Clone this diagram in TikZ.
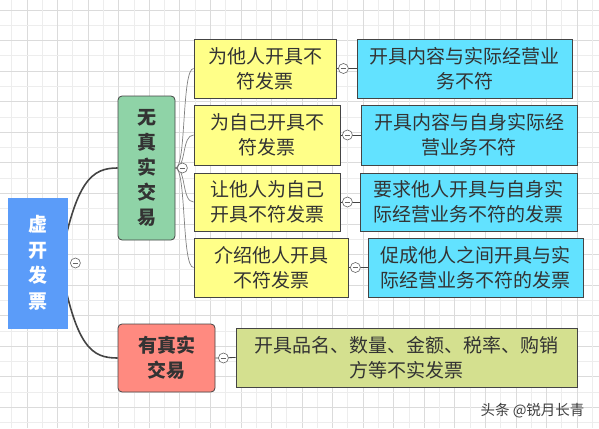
\documentclass[tikz,border=0pt]{standalone}
\usepackage{fontspec}
\setmainfont{Noto Sans CJK SC}
\usetikzlibrary{backgrounds}
\definecolor{rootblue}{HTML}{5B9CF9}
\definecolor{fakegreen}{HTML}{8FD3A7}
\definecolor{realred}{HTML}{FF8A80}
\definecolor{caseyellow}{HTML}{FFFF88}
\definecolor{notecyan}{HTML}{62E2FF}
\definecolor{noteolive}{HTML}{D4E08F}
\definecolor{edgegray}{HTML}{444444}

\begin{document}
\begin{tikzpicture}[x=1pt,y=-1pt,
  box/.style={draw=edgegray,line width=.8pt,fill=#1,inner sep=0pt,align=center,
    font=\fontsize{19}{25}\selectfont,text=black!80},
  topic/.style={box=#1,rounded corners=4pt,font=\fontsize{19}{25}\selectfont\bfseries},
  knob/.style={circle,draw=black!60,fill=white,line width=.6pt,minimum size=10pt,inner sep=0pt,
    path picture={\draw[black!60,line width=.7pt] ([xshift=-2.8pt]path picture bounding box.center)--++(5.6pt,0);}},
  branch/.style={edgegray,line width=1.6pt},
  twig/.style={black!50,line width=.7pt},
  stem/.style={edgegray,line width=.8pt}]
\useasboundingbox (0,0) rectangle (599,428);
\begin{scope}[on background layer]
\fill[white] (0,0) rectangle (599,428);
\foreach \k in {0,...,19}{
  \draw[black!7,line width=.8pt] (11.7+30.56*\k,0)--++(0,428);
  \draw[black!14,line width=.8pt] (27+30.56*\k,0)--++(0,428);
  \draw[black!14,line width=.8pt] (0,10+30.56*\k)--++(599,0);
  \draw[black!7,line width=.8pt] (0,25.3+30.56*\k)--++(599,0);}
\end{scope}

\node[box=rootblue,draw=none,minimum width=60pt,minimum height=131pt,text=white,
  font=\fontsize{19}{25.5}\selectfont\bfseries] (root) at (38,263) {虚\\开\\发\\票};
\node[topic=fakegreen,minimum width=57pt,minimum height=144pt,font=\fontsize{19}{25}\selectfont\bfseries] (fake) at (146.5,168) {无\\真\\实\\交\\易};
\node[topic=realred,minimum width=97pt,minimum height=68pt] (real) at (166.5,358) {有真实\\交易};
\node[box=noteolive,minimum width=341pt,minimum height=59pt] (realnote) at (406.5,357.5) {开具品名、数量、金额、税率、购销\\方等不实发票};

\node[box=caseyellow,minimum width=142pt,minimum height=59pt] (y1) at (265,68.5) {为他人开具不\\符发票};
\node[box=caseyellow,minimum width=146pt,minimum height=60pt] (y2) at (267,135) {为自己开具不\\符发票};
\node[box=caseyellow,minimum width=146pt,minimum height=58pt] (y3) at (267,202) {让他人为自己\\开具不符发票};
\node[box=caseyellow,minimum width=154pt,minimum height=59pt] (y4) at (271,267.5) {介绍他人开具\\不符发票};

\node[box=notecyan,minimum width=215pt,minimum height=59pt] (c1) at (464.5,68.5) {开具内容与实际经营业\\务不符};
\node[box=notecyan,minimum width=216pt,minimum height=60pt] (c2) at (469,135) {开具内容与自身实际经\\营业务不符};
\node[box=notecyan,minimum width=217pt,minimum height=58pt] (c3) at (468.5,202) {要求他人开具与自身实\\际经营业务不符的发票};
\node[box=notecyan,minimum width=215pt,minimum height=59pt] (c4) at (475.5,267.5) {促成他人之间开具与实\\际经营业务不符的发票};

\begin{scope}[on background layer]
\draw[branch] ([xshift=-8pt]root.east) .. controls (76,180) and (92,168) .. (fake.west);
\draw[branch] ([xshift=-8pt]root.east) .. controls (76,348) and (92,358) .. (real.west);
\foreach \i in {1,...,4}{
  \draw[twig] (fake.east) .. controls ([xshift=11pt]fake.east) and ([xshift=-12pt]y\i.west) .. (y\i.west);
  \draw[stem] (y\i.east)--(c\i.west);}
\draw[stem] (real.east)--(realnote.west);
\end{scope}

\node[knob] (k0) at ([xshift=7pt]root.east) {};
\node[knob] (kf) at ([xshift=7pt]fake.east) {};
\node[knob] (kr) at ([xshift=8pt]real.east) {};
\foreach \i in {1,...,4}{\node[knob] (k\i) at ([xshift=7pt]y\i.east) {};}

\node[anchor=east,font=\fontsize{14.5}{16}\selectfont,text=black!75] (mark) at (588,411) {头条 @锐月长青};
\end{tikzpicture}
\end{document}
